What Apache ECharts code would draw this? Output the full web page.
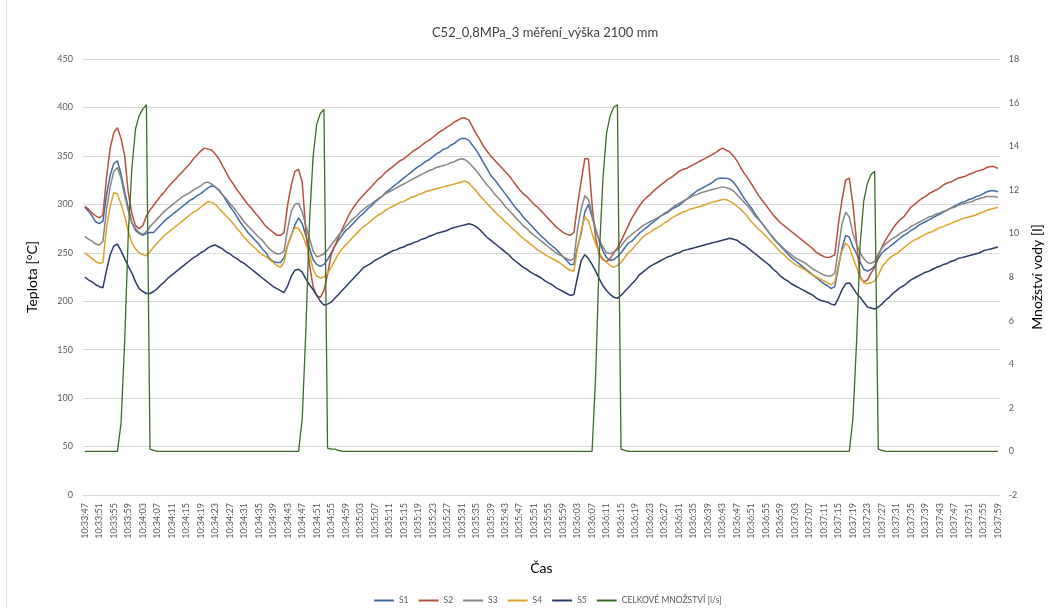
<!DOCTYPE html>
<html>
<head>
<meta charset="utf-8">
<script src="https://cdn.jsdelivr.net/npm/echarts@6/dist/echarts.min.js"></script>
<style>
  html, body { margin: 0; padding: 0; background: #ffffff; }
  #chart { width: 1052px; height: 608px; }
</style>
</head>
<body>
<div id="chart"></div>
<script>
// Time axis: one sample per second starting at 10:33:47
const startTime = '10:33:47';
const sampleCount = 253;

// Thermocouple readings [°C]
const s1 = [
  297,293,288,282,280,283,310,330,342,345,
  331,313,296,281,273,270,268,270,271,271,
  275,279,283,286,289,292,295,298,301,304,
  306,309,311,314,317,319,318,315,310,304,
  298,293,287,281,276,271,267,263,259,254,
  250,244,241,240,240,245,258,268,279,286,
  280,268,255,243,238,236,238,243,250,257,
  263,268,273,276,280,284,288,291,295,298,
  302,305,308,312,315,318,321,324,327,330,
  333,336,339,341,344,346,349,352,354,357,
  358,361,363,366,368,368,366,361,356,350,
  343,337,330,326,321,316,311,306,301,296,
  292,287,283,279,275,271,267,264,260,257,
  254,250,246,242,238,238,256,270,292,300,
  287,274,262,252,245,242,243,246,250,255,
  260,262,266,270,273,276,279,282,285,288,
  290,292,295,297,299,302,305,308,311,314,
  316,318,320,322,325,327,327,327,326,323,
  318,312,306,301,296,290,285,280,275,270,
  265,261,257,253,249,245,242,239,236,233,
  230,227,224,221,218,216,213,215,235,255,
  268,266,256,249,240,233,231,233,236,244,
  250,253,256,259,262,265,268,270,273,275,
  278,280,282,284,286,288,290,292,294,296,
  298,300,302,303,305,306,308,309,311,313,
  314,314,313
];
const s2 = [
  298,295,291,288,286,289,328,358,374,379,
  368,350,312,290,278,275,278,288,294,299,
  304,309,313,318,322,326,330,334,338,342,
  347,351,355,358,357,356,352,347,340,333,
  326,321,315,310,305,300,296,291,287,282,
  277,274,271,268,268,271,300,320,334,336,
  323,273,238,215,206,204,211,228,248,257,
  266,274,282,290,296,301,306,310,314,318,
  322,326,329,333,336,339,342,345,347,350,
  353,356,358,361,364,366,369,372,375,377,
  380,382,385,387,389,389,387,380,373,367,
  360,355,350,346,342,338,334,330,325,320,
  315,311,308,304,300,297,293,289,285,281,
  277,274,271,269,268,271,300,324,347,347,
  300,265,248,243,241,244,250,255,262,270,
  278,286,292,298,303,307,310,314,317,320,
  323,326,328,331,334,336,337,339,341,343,
  345,347,349,351,353,356,358,356,354,350,
  345,338,332,327,321,315,309,304,299,294,
  289,285,281,278,275,272,269,266,263,260,
  257,254,250,248,246,245,246,248,280,305,
  325,327,300,262,225,220,222,229,235,247,
  256,263,269,275,280,284,287,292,297,300,
  303,306,308,311,313,315,317,320,322,323,
  325,327,328,329,331,332,334,335,336,338,
  339,339,337
];
const s3 = [
  267,264,262,259,258,262,295,318,334,338,
  327,309,293,281,275,271,269,272,277,281,
  285,289,293,296,299,302,305,308,310,312,
  315,317,319,322,323,321,318,314,310,306,
  301,297,292,287,282,278,274,270,266,263,
  258,254,251,249,249,252,275,293,300,301,
  292,278,265,252,246,247,249,253,258,263,
  268,272,277,281,285,288,292,295,298,300,
  303,306,308,311,313,315,317,319,321,323,
  325,327,329,331,333,335,336,338,339,340,
  341,343,344,346,347,346,343,339,335,330,
  325,320,316,311,307,303,298,294,290,286,
  282,278,275,271,268,265,262,259,256,253,
  250,248,246,244,242,244,275,295,309,305,
  290,274,263,256,250,249,251,253,257,262,
  266,269,272,275,278,280,282,284,286,288,
  291,293,296,299,301,303,305,307,309,310,
  312,313,314,315,316,317,318,317,316,314,
  310,306,302,298,293,288,284,280,275,270,
  266,261,258,254,251,248,245,243,241,239,
  236,233,231,229,227,226,226,229,255,280,
  292,287,270,259,250,244,240,239,241,249,
  255,259,262,265,267,270,272,274,277,279,
  281,283,285,287,288,290,291,293,294,296,
  297,299,300,301,302,303,305,306,307,308,
  308,308,307
];
const s4 = [
  250,247,244,241,239,240,276,298,312,311,
  300,288,272,260,254,250,248,247,251,256,
  260,264,268,271,274,277,280,283,286,289,
  292,294,297,300,303,302,300,296,292,288,
  284,280,275,271,266,262,258,255,251,248,
  246,243,240,237,235,240,258,269,276,275,
  269,259,248,233,226,224,225,229,235,242,
  249,254,258,262,266,270,274,277,280,283,
  286,289,291,294,296,298,300,302,303,305,
  307,308,310,311,313,314,315,316,317,318,
  319,320,321,322,323,324,322,318,314,309,
  305,301,297,293,289,286,282,279,275,272,
  268,265,262,259,256,253,251,248,246,244,
  242,240,237,234,232,231,255,273,287,283,
  270,259,250,244,240,237,235,237,240,245,
  250,253,258,262,266,269,271,274,276,278,
  281,283,286,288,290,292,293,295,296,297,
  298,299,301,302,303,304,305,305,303,301,
  298,295,291,287,282,278,274,271,267,263,
  259,255,251,248,244,241,238,236,234,232,
  229,227,225,223,221,219,217,220,238,252,
  260,256,245,235,224,219,218,219,221,227,
  235,240,244,247,249,252,255,258,261,263,
  265,267,269,271,272,274,276,277,279,280,
  282,283,285,286,287,288,289,291,292,294,
  295,296,297
];
const s5 = [
  225,222,220,217,215,214,232,248,257,259,
  252,244,236,229,220,213,210,208,208,210,
  213,217,220,224,227,230,233,236,239,242,
  245,247,250,252,255,257,258,256,254,251,
  249,246,244,241,239,236,233,230,227,224,
  221,218,215,213,211,209,216,226,232,233,
  230,223,217,212,206,200,196,197,199,203,
  207,211,215,219,223,227,231,235,237,239,
  242,244,246,248,250,252,253,255,256,258,
  259,261,262,264,265,267,268,270,271,272,
  273,275,276,277,278,279,280,279,277,274,
  270,266,263,260,257,254,251,248,244,241,
  238,235,233,230,228,226,224,221,219,217,
  214,212,210,208,206,207,225,242,248,244,
  238,231,223,216,211,207,204,203,206,210,
  214,218,222,227,230,233,236,238,240,242,
  244,246,247,249,250,252,253,254,255,256,
  257,258,259,260,261,262,263,264,265,264,
  263,260,258,255,252,249,246,243,240,237,
  233,230,226,223,221,218,216,214,212,210,
  208,206,203,201,200,199,197,196,203,212,
  218,219,214,208,204,199,194,193,192,194,
  197,201,204,208,211,214,216,219,222,224,
  226,228,230,231,233,235,236,238,239,241,
  242,244,245,246,247,248,249,250,252,253,
  254,255,256
];

// Total water flow [l/s]
const flow = [
  0,0,0,0,0,0,0,0,0,0,
  1.3,5,10,13,14.8,15.4,15.7,15.9,0.1,0.05,
  0,0,0,0,0,0,0,0,0,0,
  0,0,0,0,0,0,0,0,0,0,
  0,0,0,0,0,0,0,0,0,0,
  0,0,0,0,0,0,0,0,0,0,
  1.5,5.5,10.5,13.5,15,15.5,15.7,0.15,0.1,0.1,
  0.05,0,0,0,0,0,0,0,0,0,
  0,0,0,0,0,0,0,0,0,0,
  0,0,0,0,0,0,0,0,0,0,
  0,0,0,0,0,0,0,0,0,0,
  0,0,0,0,0,0,0,0,0,0,
  0,0,0,0,0,0,0,0,0,0,
  0,0,0,0,0,0,0,0,0,0,
  0,3.5,9,12.5,14.6,15.4,15.8,15.9,0.1,0.05,
  0,0,0,0,0,0,0,0,0,0,
  0,0,0,0,0,0,0,0,0,0,
  0,0,0,0,0,0,0,0,0,0,
  0,0,0,0,0,0,0,0,0,0,
  0,0,0,0,0,0,0,0,0,0,
  0,0,0,0,0,0,0,0,0,0,
  0,0,1.5,5,9.5,11.5,12.3,12.7,12.85,0.1,
  0.05,0,0,0,0,0,0,0,0,0,
  0,0,0,0,0,0,0,0,0,0,
  0,0,0,0,0,0,0,0,0,0,
  0,0,0
];

const seriesNames = ['S1', 'S2', 'S3', 'S4', 'S5', 'CELKOVÉ MNOŽSTVÍ [l/s]'];
const seriesColors = ['#4069a6', '#b4503c', '#858585', '#dca32b', '#2b3c66', '#3a6b2a'];

// hh:mm:ss labels, one per second
function buildTimes(start, count) {
  const p = start.split(':').map(Number);
  let t = p[0] * 3600 + p[1] * 60 + p[2];
  const out = [];
  for (let k = 0; k < count; k++, t++) {
    const h = Math.floor(t / 3600), m = Math.floor(t / 60) % 60, s = t % 60;
    out.push(h + ':' + String(m).padStart(2, '0') + ':' + String(s).padStart(2, '0'));
  }
  return out;
}
const times = buildTimes(startTime, sampleCount);

const FONT = 'Lato, "Noto Sans", sans-serif';
const tempSeries = [s1, s2, s3, s4, s5];

const series = tempSeries.map((d, k) => ({
  name: seriesNames[k],
  type: 'line',
  yAxisIndex: 0,
  data: d,
  symbol: 'none',
  lineStyle: { width: 1.5, color: seriesColors[k] },
  itemStyle: { color: seriesColors[k] },
  animation: false
}));
series.push({
  name: seriesNames[5],
  type: 'line',
  yAxisIndex: 1,
  data: flow,
  symbol: 'none',
  lineStyle: { width: 1.3, color: seriesColors[5] },
  itemStyle: { color: seriesColors[5] },
  animation: false
});

const chart = echarts.init(document.getElementById('chart'), null, { renderer: 'canvas' });
chart.setOption({
  backgroundColor: '#ffffff',
  animation: false,
  textStyle: { fontFamily: FONT },
  grid: { left: 83, right: 41, top: 59, bottom: 113, containLabel: false },
  graphic: [
    {
      type: 'line',
      shape: { x1: 6.5, y1: 0, x2: 6.5, y2: 608 },
      style: { stroke: '#d9d9d9', lineWidth: 1 }
    },
    {
      type: 'text',
      x: 545, y: 33,
      style: {
        text: 'C52_0,8MPa_3 měření_výška 2100 mm',
        fill: '#404040',
        font: '13px ' + FONT,
        align: 'center',
        verticalAlign: 'middle'
      }
    }
  ],
  legend: {
    data: seriesNames,
    left: 368,
    top: 591,
    itemWidth: 20,
    itemHeight: 8,
    itemGap: 9,
    itemStyle: { opacity: 0 },
    textStyle: { fontSize: 8.5, color: '#595959', fontFamily: FONT }
  },
  xAxis: {
    type: 'category',
    data: times,
    boundaryGap: true,
    name: 'Čas',
    nameLocation: 'middle',
    nameGap: 66,
    nameTextStyle: { fontSize: 14, color: '#000000', fontFamily: FONT },
    axisLine: { show: true, lineStyle: { color: '#d9d9d9' } },
    axisTick: { show: false },
    axisLabel: {
      interval: 3,
      rotate: 90,
      fontSize: 9,
      color: '#595959',
      margin: 8,
      fontFamily: FONT
    },
    splitLine: { show: false }
  },
  yAxis: [
    {
      type: 'value',
      min: 0, max: 450, interval: 50,
      name: 'Teplota [°C]',
      nameLocation: 'middle',
      nameRotate: 90,
      nameGap: 44,
      nameTextStyle: { fontSize: 14, color: '#000000', fontFamily: FONT },
      axisLine: { show: false },
      axisTick: { show: false },
      axisLabel: { fontSize: 9, color: '#595959', margin: 10, fontFamily: FONT },
      splitLine: { show: true, lineStyle: { color: '#d9d9d9', width: 1 } }
    },
    {
      type: 'value',
      position: 'right',
      min: -2, max: 18, interval: 2,
      name: 'Množství vody [l]',
      nameLocation: 'middle',
      nameRotate: 90,
      nameGap: 25,
      nameTextStyle: { fontSize: 14, color: '#000000', fontFamily: FONT },
      axisLine: { show: false },
      axisTick: { show: false },
      axisLabel: { fontSize: 9, color: '#595959', margin: 9, fontFamily: FONT },
      splitLine: { show: false }
    }
  ],
  series: series
});
</script>
</body>
</html>
